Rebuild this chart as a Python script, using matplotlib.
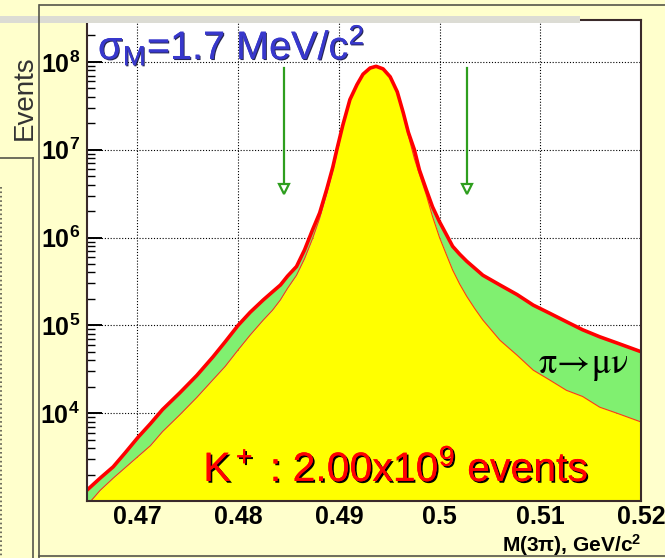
import matplotlib
matplotlib.use("Agg")
import matplotlib.pyplot as plt
from matplotlib import patheffects as pe
from matplotlib.lines import Line2D
from matplotlib.patches import Rectangle
from matplotlib.ticker import FixedLocator, FixedFormatter, LogLocator, NullFormatter

plt.rcParams["font.family"] = ["Liberation Sans", "DejaVu Sans"]
plt.rcParams["mathtext.fontset"] = "custom"
plt.rcParams["mathtext.rm"] = "Liberation Sans"
plt.rcParams["mathtext.it"] = "Liberation Sans:italic"
plt.rcParams["mathtext.bf"] = "Liberation Sans:bold"

# ---- data: M(3pi) spectrum, events per bin ----
mass = [0.4650, 0.4663, 0.4676, 0.4688, 0.4701, 0.4713, 0.4725, 0.4742,
        0.4759, 0.4775, 0.4787, 0.4800, 0.4812, 0.4825, 0.4834, 0.4842,
        0.4849, 0.4858, 0.4866, 0.4874, 0.4881, 0.4888, 0.4894, 0.4898,
        0.4904, 0.4911, 0.4918, 0.4924, 0.4931, 0.4937, 0.4944, 0.4951,
        0.4958, 0.4964, 0.4969, 0.4975, 0.4980, 0.4987, 0.4993, 0.5000,
        0.5007, 0.5013, 0.5020, 0.5027, 0.5035, 0.5043, 0.5060, 0.5077,
        0.5093, 0.5109, 0.5126, 0.5142, 0.5159, 0.5176, 0.5200]

# all K -> 3pi events (including pion decays in flight)
total = [1.33e3, 1.82e3, 2.45e3, 3.55e3, 5.37e3, 7.6e3, 1.10e4, 1.70e4,
         2.69e4, 4.37e4, 6.46e4, 1.0e5, 1.41e5, 1.95e5, 2.40e5, 2.88e5,
         3.63e5, 4.68e5, 7.24e5, 1.23e6, 1.91e6, 3.55e6, 6.31e6, 1.0e7,
         1.91e7, 3.72e7, 5.50e7, 7.24e7, 8.51e7, 8.91e7, 8.32e7, 6.76e7,
         4.57e7, 2.63e7, 1.58e7, 1.0e7, 5.89e6, 3.47e6, 2.24e6, 1.51e6,
         1.07e6, 7.94e5, 6.46e5, 5.37e5, 4.47e5, 3.72e5, 2.88e5, 2.24e5,
         1.70e5, 1.38e5, 1.10e5, 8.91e4, 7.41e4, 6.31e4, 5.01e4]

# events without pi -> mu nu decays
no_pidecay = [8.9e2, 1.32e3, 1.82e3, 2.40e3, 3.24e3, 4.27e3, 6.17e3, 9.55e3,
              1.51e4, 2.40e4, 3.39e4, 5.25e4, 7.76e4, 1.15e5, 1.48e5, 1.95e5,
              2.63e5, 3.72e5, 5.75e5, 9.77e5, 1.66e6, 3.16e6, 5.75e6, 9.12e6,
              1.82e7, 3.63e7, 5.50e7, 7.24e7, 8.51e7, 8.91e7, 8.32e7, 6.76e7,
              4.47e7, 2.51e7, 1.45e7, 7.94e6, 5.25e6, 3.02e6, 1.74e6, 1.0e6,
              6.31e5, 4.27e5, 2.95e5, 2.14e5, 1.55e5, 1.15e5, 6.76e4, 4.57e4,
              3.09e4, 2.40e4, 1.82e4, 1.55e4, 1.17e4, 1.0e4, 7.94e3]

# mass window markers
window = [0.4846, 0.5027]
window_top = 8.5e7
window_bottom = 3.6e6

x_ticks = [0.47, 0.48, 0.49, 0.50, 0.51, 0.52]
x_labels = ["0.47", "0.48", "0.49", "0.5", "0.51", "0.52"]
y_ticks = [1e4, 1e5, 1e6, 1e7, 1e8]
y_labels = [r"$\mathbf{10^{4}}$", r"$\mathbf{10^{5}}$", r"$\mathbf{10^{6}}$",
            r"$\mathbf{10^{7}}$", r"$\mathbf{10^{8}}$"]

W, H = 665, 558
BG = "#FFFFCC"
fig = plt.figure(figsize=(W / 100, H / 100), dpi=100, facecolor=BG)


def fx(px):
    return px / W


def fy(py):
    return 1 - py / H


# slide frame decorations
fig.patches.append(Rectangle((0, fy(23)), fx(580), 7 / H, transform=fig.transFigure,
                             facecolor="#DCDCD4", edgecolor="none", zorder=0))
for (x0, y0, x1, y1, st) in [(40, 5, 665, 5, "-"), (39, 5, 39, 558, "-"),
                             (0, 158, 33, 158, "-"), (33, 158, 33, 558, "-"),
                             (39, 556, 665, 556, "-"), (1, 187, 1, 558, ":")]:
    fig.lines.append(Line2D([fx(x0), fx(x1)], [fy(y0), fy(y1)], transform=fig.transFigure,
                            color="#55554a", lw=1.2, ls=st))

ax = fig.add_axes([fx(87), fy(501), (641 - 87) / W, (501 - 20) / H])
ax.set_facecolor("white")
ax.set_yscale("log")
ax.set_xlim(0.465, 0.52)
ax.set_ylim(1e3, 3e8)

ax.fill_between(mass, 1e2, no_pidecay, color="#FFFF00", lw=0, zorder=1)
ax.fill_between(mass, no_pidecay, total, color="#80F070", lw=0, zorder=1)
ax.plot(mass, no_pidecay, color="#FF3A10", lw=0.8, zorder=2)
ax.plot(mass, total, color="#FF0000", lw=2.6, zorder=3, solid_joinstyle="round")

# mass window arrows
for xm in window:
    ax.plot([xm, xm], [window_top, window_bottom], color="#2E9E1E", lw=1.6, zorder=4)
    ax.plot([xm], [window_bottom], marker="v", ms=7.5, mfc="white", mec="#2E9E1E",
            mew=1.6, zorder=5)

ax.xaxis.set_major_locator(FixedLocator(x_ticks))
ax.xaxis.set_major_formatter(FixedFormatter(x_labels))
ax.yaxis.set_major_locator(FixedLocator(y_ticks))
ax.yaxis.set_major_formatter(FixedFormatter(y_labels))
ax.yaxis.set_minor_locator(LogLocator(base=10, subs=range(2, 10)))
ax.yaxis.set_minor_formatter(NullFormatter())

ax.tick_params(axis="x", which="both", length=0, pad=3, labelsize=18)
ax.tick_params(axis="y", which="major", direction="in", length=11, width=1.4,
               pad=5, labelsize=18)
ax.tick_params(axis="y", which="minor", direction="in", length=6, width=1.0)
for lab in ax.get_xticklabels():
    lab.set_fontweight("bold")

ax.grid(True, which="major", color="black", ls=(0, (1, 1.6)), lw=0.8)
ax.set_axisbelow(True)
for sp in ax.spines.values():
    sp.set_color("#3A2A2A")
    sp.set_linewidth(1.5)
    sp.set_zorder(6)

# labels and annotations
fig.text(fx(25), fy(98), "Events", rotation=90, ha="center", va="center",
         fontsize=20, color="#333333")
fig.text(fx(641), fy(552), r"M(3$\mathbf{\pi}$), GeV/c$^\mathbf{2}$", ha="right",
         va="baseline", fontsize=15, fontweight="bold")

sig = fig.text(fx(98), fy(59), r"σ$_{\mathrm{M}}$=1.7 MeV/c$^2$", ha="left",
               va="baseline", fontsize=28.5, color="#3838CC")
sig.set_path_effects([pe.withSimplePatchShadow(offset=(0.8, -0.8), shadow_rgbFace="#101040",
                                               alpha=0.9), pe.Normal()])

kt = fig.text(fx(396), fy(481), r"K$^+$ : 2.00x10$^9$ events", ha="center",
              va="baseline", fontsize=29.5, color="#FF0000")
kt.set_path_effects([pe.withSimplePatchShadow(offset=(1.3, -1.3), shadow_rgbFace="black",
                                              alpha=1.0), pe.Normal()])

fig.text(fx(583), fy(373), r"$\mathrm{\pi}\!\rightarrow\!\mathrm{\mu\nu}$", ha="center",
         va="baseline", fontsize=26, color="black", math_fontfamily="stix")

fig.savefig("out.png", dpi=100, facecolor=BG)
